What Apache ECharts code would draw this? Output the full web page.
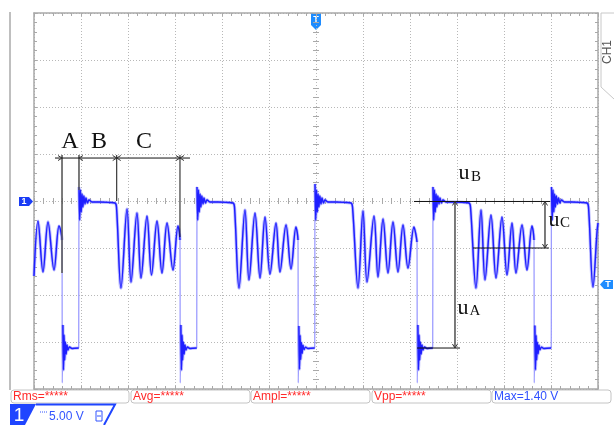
<!DOCTYPE html>
<html><head><meta charset="utf-8">
<script src="https://cdn.jsdelivr.net/npm/echarts@6/dist/echarts.min.js"></script>
<style>html,body{margin:0;padding:0;background:#fff}#c{width:614px;height:425px}</style>
</head><body><div id="c"></div>
<script>
// x: time in screen divisions (12 div), y: voltage in V (5 V/div)
const voltsPerDiv = 5;

const timeP0 = [0.000, 0.085, 0.191, 0.298, 0.426, 0.532, 0.574, 0.596, 0.602, 0.615, 0.628, 0.640, 0.653, 0.668, 0.685, 0.702, 0.723, 0.755, 0.809, 0.951];
const voltsP0 = [-7.98, -2.13, -7.55, -2.23, -7.34, -2.66, -3.30, -4.15, -19.36, -13.19, -17.98, -14.26, -16.91, -15.00, -16.28, -15.32, -15.85, -15.53, -15.69, -15.64];

const timeP1 = [0.957, 0.972, 0.989, 1.006, 1.023, 1.040, 1.060, 1.085, 1.106, 1.138, 1.170, 1.234, 1.404, 1.617, 1.723, 1.755,
  1.851, 1.979, 2.064, 2.191, 2.277, 2.404, 2.500, 2.617, 2.723, 2.830, 2.957, 3.064, 3.091, 3.106,
  3.112, 3.125, 3.138, 3.151, 3.163, 3.178, 3.195, 3.212, 3.234, 3.266, 3.319, 3.462];
const voltsP1 = [1.49, -2.02, 1.17, -1.17, 0.74, -0.64, 0.53, -0.32, 0.32, -0.21, 0.11, -0.11, -0.11, -0.16, -0.21, -0.64,
  -9.26, -0.85, -8.62, -1.28, -8.19, -1.60, -7.87, -2.13, -7.66, -2.34, -7.34, -2.66, -3.30, -4.15,
  -19.36, -13.19, -17.98, -14.26, -16.91, -15.00, -16.28, -15.32, -15.85, -15.53, -15.69, -15.64];

const timeP2 = [3.468, 3.483, 3.500, 3.517, 3.534, 3.551, 3.570, 3.596, 3.617, 3.649, 3.681, 3.745, 3.915, 4.128, 4.234, 4.266,
  4.362, 4.489, 4.574, 4.702, 4.809, 4.915, 5.021, 5.149, 5.234, 5.362, 5.468, 5.574, 5.602, 5.617,
  5.623, 5.636, 5.649, 5.662, 5.674, 5.689, 5.706, 5.723, 5.745, 5.777, 5.830, 5.972];
const voltsP2 = [1.49, -2.02, 1.17, -1.17, 0.74, -0.64, 0.53, -0.32, 0.32, -0.21, 0.11, -0.11, -0.11, -0.16, -0.21, -0.64,
  -9.26, -0.96, -8.40, -1.28, -8.19, -1.70, -7.77, -2.34, -7.55, -2.55, -7.23, -2.77, -3.40, -4.15,
  -19.36, -13.30, -17.90, -14.30, -16.85, -15.05, -16.20, -15.35, -15.80, -15.55, -15.69, -15.64];

const timeP3 = [5.979, 5.994, 6.011, 6.028, 6.045, 6.062, 6.081, 6.106, 6.128, 6.160, 6.191, 6.255, 6.426, 6.638, 6.745, 6.777,
  6.894, 7.000, 7.085, 7.234, 7.319, 7.426, 7.532, 7.638, 7.745, 7.851, 7.957, 8.085, 8.123, 8.149,
  8.155, 8.168, 8.181, 8.194, 8.206, 8.221, 8.238, 8.255, 8.277, 8.309, 8.362, 8.483];
const voltsP3 = [1.81, -2.02, 1.17, -1.17, 0.74, -0.64, 0.53, -0.32, 0.32, -0.21, 0.11, -0.11, -0.11, -0.16, -0.21, -0.64,
  -9.26, -1.06, -8.62, -1.60, -8.09, -1.91, -7.66, -2.23, -7.55, -2.55, -7.13, -2.77, -3.51, -4.36,
  -19.36, -13.19, -17.98, -14.26, -16.91, -15.00, -16.28, -15.32, -15.85, -15.53, -15.69, -15.64];

const timeP4 = [8.489, 8.504, 8.521, 8.538, 8.555, 8.572, 8.591, 8.617, 8.638, 8.670, 8.702, 8.766, 8.936, 9.149, 9.255, 9.287,
  9.404, 9.511, 9.596, 9.723, 9.830, 9.957, 10.064, 10.170, 10.255, 10.383, 10.489, 10.596, 10.623, 10.638,
  10.644, 10.657, 10.670, 10.683, 10.695, 10.710, 10.727, 10.744, 10.766, 10.798, 10.851, 11.004];
const voltsP4 = [1.49, -2.02, 1.17, -1.17, 0.74, -0.64, 0.53, -0.32, 0.32, -0.21, 0.11, -0.11, -0.11, -0.16, -0.21, -0.64,
  -9.26, -0.96, -8.40, -1.49, -8.19, -1.70, -7.87, -2.34, -7.66, -2.55, -7.34, -2.66, -3.30, -4.15,
  -19.36, -13.25, -17.95, -14.30, -16.90, -15.02, -16.25, -15.33, -15.83, -15.54, -15.69, -15.64];

const timeP5 = [11.011, 11.026, 11.043, 11.060, 11.077, 11.094, 11.113, 11.138, 11.160, 11.191, 11.223, 11.287, 11.447, 11.660, 11.766, 11.798, 11.894, 11.979, 12.000];
const voltsP5 = [1.49, -2.02, 1.17, -1.17, 0.74, -0.64, 0.53, -0.32, 0.32, -0.21, 0.11, -0.11, -0.11, -0.16, -0.21, -0.64, -9.15, -3.30, -2.34];

// annotation segments [t1, v1, t2, v2]
const annoGray = [[0.596, 4.89, 0.596, -7.66], [0.957, 4.89, 0.957, 1.17], [8.957, -0.05, 8.957, -15.64], [10.872, -0.05, 10.872, -5.0]];
const annoBlack = [[1.760, 4.89, 1.760, 0.0], [3.106, 4.89, 3.106, -3.83], [0.447, 4.57, 3.319, 4.57],
  [8.085, -0.05, 10.979, -0.05], [8.149, -15.64, 9.064, -15.64], [9.340, -5.0, 10.957, -5.0]];
// arrowheads [t, v, dir] dir: 0 right, 1 left, 2 up, 3 down
const annoArrows = [[0.596, 4.57, 0], [0.957, 4.57, 1], [1.760, 4.57, 0], [1.760, 4.57, 1], [3.106, 4.57, 0], [3.106, 4.57, 1],
  [8.957, -0.05, 2], [8.957, -15.64, 3], [10.872, -0.05, 2], [10.872, -5.0, 3]];
// annotation labels
const annoTextPos = [[0.766, 6.28], [1.383, 6.28], [2.340, 6.28], [9.149, 2.98], [9.404, 2.55], [11.064, -2.02], [11.298, -2.34], [9.128, -11.38], [9.383, -11.70]];
const annoTextStr = ['A', 'B', 'C', 'u', 'B', 'u', 'C', 'u', 'A'];
const annoTextSize = [24, 24, 24, 22, 15, 22, 15, 22, 15];

const measLabels = ['Rms=*****', 'Avg=*****', 'Ampl=*****', 'Vpp=*****', 'Max=1.40 V'];
const measColors = ['#ff2a2a', '#ff2a2a', '#ff2a2a', '#ff2a2a', '#3050ff'];

const trace = [];
[[timeP0, voltsP0], [timeP1, voltsP1], [timeP2, voltsP2], [timeP3, voltsP3], [timeP4, voltsP4], [timeP5, voltsP5]].forEach(([t, v]) => {
  t.forEach((x, i) => trace.push([x, v[i]]));
});
// fast edges and spikes are drawn only by the faint full trace
const core = [];
trace.forEach((p, i) => {
  if (p[1] < -18.5) { core.push([p[0], '-']); return; }
  if (i > 0 && Math.abs(p[1] - trace[i - 1][1]) > 12) core.push([p[0], '-']);
  core.push(p);
});

const chart = echarts.init(document.getElementById('c'), null, {renderer: 'canvas'});
const borderCol = '#a9a9a9';
function baseX(extra) {
  return Object.assign({type: 'value', min: 0, max: 12, interval: 1, axisLabel: {show: false},
    axisLine: {onZero: false, lineStyle: {color: borderCol, width: 1.5}},
    axisTick: {show: true, inside: true, length: 3, lineStyle: {color: borderCol}},
    minorTick: {show: true, splitNumber: 5, length: 3, lineStyle: {color: borderCol}},
    splitLine: {show: false}}, extra);
}
function baseY(extra) {
  return Object.assign({type: 'value', min: -4 * voltsPerDiv, max: 4 * voltsPerDiv, interval: voltsPerDiv, axisLabel: {show: false},
    axisLine: {onZero: false, lineStyle: {color: borderCol, width: 1.5}},
    axisTick: {show: true, inside: true, length: 3, lineStyle: {color: borderCol}},
    minorTick: {show: true, splitNumber: 5, length: 3, lineStyle: {color: borderCol}},
    splitLine: {show: false}}, extra);
}
const gridSplit = {show: true, lineStyle: {color: '#b8b8b8', type: [1, 2], width: 1}};

function segRender(color, width) {
  return function (params, api) {
    const p1 = api.coord([api.value(0), api.value(1)]);
    const p2 = api.coord([api.value(2), api.value(3)]);
    return {type: 'line', shape: {x1: p1[0], y1: p1[1], x2: p2[0], y2: p2[1]}, style: {stroke: color, lineWidth: width}};
  };
}

const graphics = [];
graphics.push({type: 'line', shape: {x1: 10, y1: 12, x2: 10, y2: 390}, style: {stroke: '#aaa', lineWidth: 1.5}});
graphics.push({type: 'polyline', shape: {points: [[614, 13], [601, 13], [601, 87], [614, 99]]}, style: {stroke: '#c8c8c8', fill: null, lineWidth: 1}});
graphics.push({type: 'text', x: 608, y: 52, rotation: Math.PI / 2, style: {text: 'CH1', fill: '#555', font: '12px "Liberation Sans"', align: 'center', verticalAlign: 'middle'}});
// markers
graphics.push({type: 'polygon', shape: {points: [[19, 197], [29, 197], [33, 201.5], [29, 206], [19, 206]]}, style: {fill: '#1a3cf5'}});
graphics.push({type: 'text', x: 24, y: 201.8, style: {text: '1', fill: '#fff', font: 'bold 9px "Liberation Sans"', align: 'center', verticalAlign: 'middle'}});
graphics.push({type: 'polygon', shape: {points: [[311, 13], [321, 13], [321, 25], [316, 30], [311, 25]]}, style: {fill: '#1e8cff'}});
graphics.push({type: 'text', x: 316, y: 20, style: {text: 'T', fill: '#fff', font: 'bold 9px "Liberation Sans"', align: 'center', verticalAlign: 'middle'}});
graphics.push({type: 'polygon', shape: {points: [[613, 280], [604, 280], [600, 284.5], [604, 289], [613, 289]]}, style: {fill: '#1e8cff'}});
graphics.push({type: 'text', x: 608, y: 284.8, style: {text: 'T', fill: '#fff', font: 'bold 9px "Liberation Sans"', align: 'center', verticalAlign: 'middle'}});
// measurement boxes
const boxX = [11, 131, 251, 372, 492];
const boxW = [118, 119, 119, 119, 119];
measLabels.forEach((m, i) => {
  graphics.push({type: 'rect', shape: {x: boxX[i], y: 390, width: boxW[i], height: 13, r: 3}, style: {fill: '#fff', stroke: '#c4c4c4', lineWidth: 1}});
  graphics.push({type: 'text', x: boxX[i] + 2, y: 397, style: {text: m, fill: measColors[i], font: '12px "Liberation Sans"', align: 'left', verticalAlign: 'middle'}});
});
// channel label
graphics.push({type: 'polygon', shape: {points: [[10, 404], [36, 404], [25, 425], [10, 425]]}, style: {fill: '#1f45ff'}});
graphics.push({type: 'polyline', shape: {points: [[36, 404.5], [115, 404.5], [104, 425]]}, style: {stroke: '#1f45ff', fill: null, lineWidth: 2}});
graphics.push({type: 'text', x: 19, y: 415.5, style: {text: '1', fill: '#fff', font: '19px "Liberation Sans"', align: 'center', verticalAlign: 'middle'}});
graphics.push({type: 'line', shape: {x1: 40, y1: 412, x2: 47, y2: 412}, style: {stroke: '#3355ff', lineWidth: 1, lineDash: [1, 1]}});
graphics.push({type: 'text', x: 49, y: 416.5, style: {text: '5.00 V', fill: '#3355ff', font: '12px "Liberation Sans"', align: 'left', verticalAlign: 'middle'}});
graphics.push({type: 'rect', shape: {x: 96, y: 411, width: 6, height: 10}, style: {fill: '#fff', stroke: '#3355ff', lineWidth: 1}});
graphics.push({type: 'line', shape: {x1: 97, y1: 416, x2: 101, y2: 416}, style: {stroke: '#3355ff', lineWidth: 1}});

chart.setOption({
  animation: false,
  backgroundColor: '#fff',
  grid: {left: 34, top: 13, width: 564, height: 376, show: false},
  xAxis: [
    baseX({position: 'bottom', splitLine: gridSplit}),
    baseX({position: 'top'}),
    baseX({position: 'bottom', offset: -185, axisLine: {show: false, onZero: false}, axisTick: {show: true, inside: true, length: 6, lineStyle: {color: borderCol}}, minorTick: {show: true, splitNumber: 5, length: 6, lineStyle: {color: borderCol}}})
  ],
  yAxis: [
    baseY({position: 'left', splitLine: gridSplit}),
    baseY({position: 'right'}),
    baseY({position: 'left', offset: -279, axisLine: {show: false, onZero: false}, axisTick: {show: true, inside: true, length: 6, lineStyle: {color: borderCol}}, minorTick: {show: true, splitNumber: 5, length: 6, lineStyle: {color: borderCol}}})
  ],
  series: [
    {type: 'line', data: trace, xAxisIndex: 0, yAxisIndex: 0, showSymbol: false, smooth: 0.35, silent: true,
      lineStyle: {color: '#9d9dff', width: 1.3}},
    {type: 'line', data: core, xAxisIndex: 0, yAxisIndex: 0, showSymbol: false, smooth: 0.35, silent: true, connectNulls: false,
      lineStyle: {color: 'rgba(110,110,255,0.45)', width: 3.2}},
    {type: 'line', data: core, xAxisIndex: 0, yAxisIndex: 0, showSymbol: false, smooth: 0.35, silent: true, connectNulls: false,
      lineStyle: {color: '#1f1fff', width: 1.4}},
    {type: 'custom', data: annoGray, renderItem: segRender('#5a5a5a', 1.6), encode: {x: [0, 2], y: [1, 3]}, silent: true, clip: false, z: 5},
    {type: 'custom', data: annoBlack, renderItem: segRender('#111', 1), encode: {x: [0, 2], y: [1, 3]}, silent: true, clip: false, z: 5},
    {type: 'custom', data: annoArrows, encode: {x: 0, y: 1}, silent: true, clip: false, z: 5,
      renderItem: function (params, api) {
        const p = api.coord([api.value(0), api.value(1)]);
        const d = api.value(2), L = 4, W = 2.5;
        let pts;
        if (d === 0) pts = [[p[0] - L, p[1] - W], [p[0], p[1]], [p[0] - L, p[1] + W]];
        else if (d === 1) pts = [[p[0] + L, p[1] - W], [p[0], p[1]], [p[0] + L, p[1] + W]];
        else if (d === 2) pts = [[p[0] - W, p[1] + L], [p[0], p[1]], [p[0] + W, p[1] + L]];
        else pts = [[p[0] - W, p[1] - L], [p[0], p[1]], [p[0] + W, p[1] - L]];
        return {type: 'polyline', shape: {points: pts}, style: {stroke: '#333', fill: null, lineWidth: 1}};
      }},
    {type: 'custom', data: annoTextPos, encode: {x: 0, y: 1}, silent: true, clip: false, z: 6,
      renderItem: function (params, api) {
        const p = api.coord([api.value(0), api.value(1)]);
        const i = params.dataIndex;
        return {type: 'text', x: p[0], y: p[1], style: {text: annoTextStr[i], fill: '#111',
          font: annoTextSize[i] + 'px "Liberation Serif"', align: 'center', verticalAlign: 'middle'}};
      }}
  ],
  graphic: graphics
});
</script>
</body></html>
